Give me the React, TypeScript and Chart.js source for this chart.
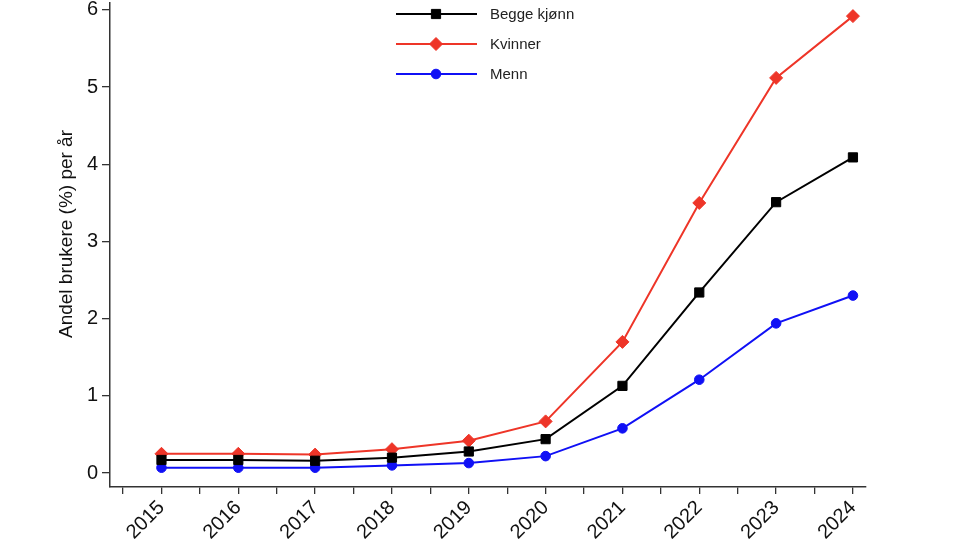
import React, { useEffect, useRef } from "react";
import { Chart, registerables } from "chart.js";

Chart.register(...registerables);

const years = [2015, 2016, 2017, 2018, 2019, 2020, 2021, 2022, 2023, 2024];
const begge = [0.17, 0.17, 0.16, 0.2, 0.28, 0.44, 1.13, 2.34, 3.51, 4.09];
const kvinner = [0.25, 0.25, 0.24, 0.31, 0.42, 0.67, 1.7, 3.5, 5.12, 5.92];
const menn = [0.07, 0.07, 0.07, 0.1, 0.13, 0.22, 0.58, 1.21, 1.94, 2.3];
const yTicks = [0, 1, 2, 3, 4, 5, 6];
const seriesLabels = ["Begge kjønn", "Kvinner", "Menn"];
const yTitle = "Andel brukere (%) per år";

const FONT = "'Liberation Sans', Arial, sans-serif";
const RED = "#ee3528";
const BLUE = "#1010f5";
const BLACK = "#000000";
const SHIFT = 13;

const legendPlugin = {
  id: "customLegend",
  afterDraw(chart: any) {
    const ctx = chart.ctx;
    const x0 = 396;
    const x1 = 477;
    const xm = 436;
    const rowY = [14 + SHIFT, 44 + SHIFT, 74 + SHIFT];
    chart.data.datasets.forEach((ds: any, i: number) => {
      const y = rowY[i];
      ctx.save();
      ctx.strokeStyle = ds.borderColor;
      ctx.lineWidth = 2;
      ctx.beginPath();
      ctx.moveTo(x0, y);
      ctx.lineTo(x1, y);
      ctx.stroke();
      ctx.fillStyle = ds.pointBackgroundColor;
      ctx.strokeStyle = ds.borderColor;
      ctx.lineWidth = 1;
      const style = ds.pointStyle;
      const r = ds.pointRadius;
      ctx.beginPath();
      if (style === "rect") {
        const s = r * Math.SQRT1_2;
        ctx.rect(xm - s, y - s, 2 * s, 2 * s);
      } else if (style === "rectRot") {
        ctx.moveTo(xm, y - r);
        ctx.lineTo(xm + r, y);
        ctx.lineTo(xm, y + r);
        ctx.lineTo(xm - r, y);
        ctx.closePath();
      } else {
        ctx.arc(xm, y, r, 0, Math.PI * 2);
      }
      ctx.fill();
      ctx.stroke();
      ctx.fillStyle = "#222";
      ctx.font = `15px ${FONT}`;
      ctx.textBaseline = "middle";
      ctx.textAlign = "left";
      ctx.fillText(ds.label, 490, y + 1);
      ctx.restore();
    });
  },
};

const yTitlePlugin = {
  id: "yTitle",
  afterDraw(chart: any) {
    const ctx = chart.ctx;
    ctx.save();
    ctx.translate(67, 234 + SHIFT);
    ctx.rotate(-Math.PI / 2);
    ctx.fillStyle = "#111";
    ctx.font = `19px ${FONT}`;
    ctx.textAlign = "center";
    ctx.textBaseline = "middle";
    ctx.fillText(yTitle, 0, 0);
    ctx.restore();
  },
};

export default function App() {
  const ref = useRef<HTMLCanvasElement | null>(null);
  useEffect(() => {
    if (!ref.current) return;
    const mk = (vals: number[]) => years.map((x, i) => ({ x, y: vals[i] }));
    const chart = new Chart(ref.current, {
      type: "line",
      data: {
        datasets: [
          {
            label: seriesLabels[0],
            data: mk(begge),
            borderColor: BLACK,
            backgroundColor: BLACK,
            pointBackgroundColor: BLACK,
            pointStyle: "rect",
            pointRadius: 6.5,
            borderWidth: 2,
            pointBorderWidth: 1,
          },
          {
            label: seriesLabels[1],
            data: mk(kvinner),
            borderColor: RED,
            backgroundColor: RED,
            pointBackgroundColor: RED,
            pointStyle: "rectRot",
            pointRadius: 6.5,
            borderWidth: 2,
            pointBorderWidth: 1,
          },
          {
            label: seriesLabels[2],
            data: mk(menn),
            borderColor: BLUE,
            backgroundColor: BLUE,
            pointBackgroundColor: BLUE,
            pointStyle: "circle",
            pointRadius: 4.8,
            borderWidth: 2,
            pointBorderWidth: 1,
          },
        ] as any,
      },
      options: {
        animation: false,
        responsive: false,
        maintainAspectRatio: false,
        layout: { padding: { left: 0, right: 94, top: 0, bottom: 0 } },
        plugins: {
          legend: { display: false },
          tooltip: { enabled: false },
        },
        scales: {
          x: {
            type: "linear",
            min: years[0] - 0.67,
            max: years[years.length - 1] + 0.17,
            afterBuildTicks: (scale: any) => {
              const t: any[] = [];
              t.push({ value: years[0] - 0.5 });
              years.forEach((y, i) => {
                t.push({ value: y });
                if (i < years.length - 1) t.push({ value: y + 0.5 });
              });
              scale.ticks = t;
            },
            afterFit: (scale: any) => {
              scale.height = 61;
            },
            ticks: {
              minRotation: 45,
              maxRotation: 45,
              autoSkip: false,
              padding: 2,
              color: "#111",
              font: { family: FONT, size: 20 },
              callback: (v: any) => (Number.isInteger(v) ? String(v) : ""),
            },
            grid: {
              drawOnChartArea: false,
              drawTicks: true,
              tickLength: 7,
              color: "#333",
              lineWidth: 1.3,
            },
            border: { display: true, color: "#333", width: 1.5 },
          },
          y: {
            type: "linear",
            min: -0.18,
            max: 6.09,
            afterBuildTicks: (scale: any) => {
              scale.ticks = yTicks.map((v) => ({ value: v }));
            },
            afterFit: (scale: any) => {
              scale.width = 110;
            },
            ticks: {
              padding: 4,
              color: "#111",
              font: { family: FONT, size: 20 },
              callback: (v: any) => String(v),
            },
            grid: {
              drawOnChartArea: false,
              drawTicks: true,
              tickLength: 8,
              color: "#333",
              lineWidth: 1.3,
            },
            border: { display: true, color: "#333", width: 1.5 },
            title: { display: false },
          },
        },
      } as any,
      plugins: [legendPlugin, yTitlePlugin],
    });
    return () => chart.destroy();
  }, []);
  return (
    <div style={{ position: "fixed", left: 0, top: 0, width: 960, height: 548, overflow: "hidden", background: "#fff" }}>
      <canvas
        ref={ref}
        width={960}
        height={548 + SHIFT}
        style={{ position: "absolute", left: 0, top: -SHIFT, width: 960, height: 548 + SHIFT, display: "block" }}
      />
    </div>
  );
}
